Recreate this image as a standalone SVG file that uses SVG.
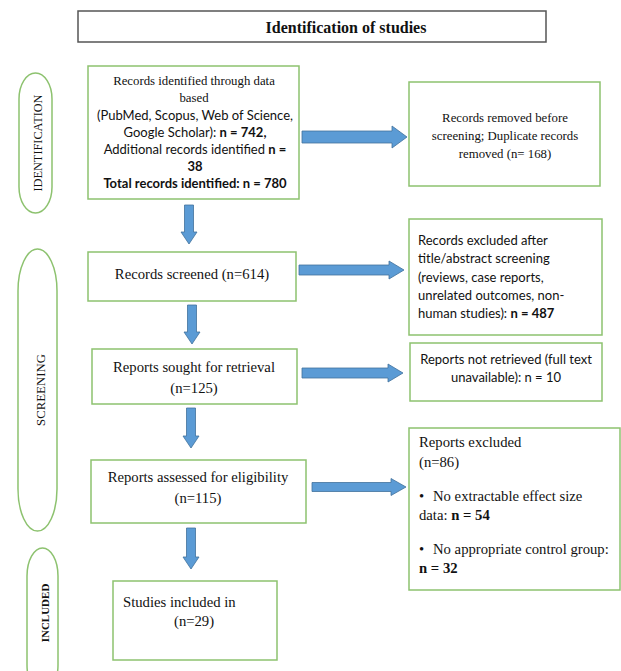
<svg xmlns="http://www.w3.org/2000/svg" width="621" height="671" viewBox="0 0 621 671">
<defs>
<style>
.bg{fill:#ffffff}
.box{fill:#ffffff;stroke:#8dc26f;stroke-width:1.5}
.pill{fill:none;stroke:#8dc26f;stroke-width:1.5}
.head{fill:#ffffff;stroke:#555555;stroke-width:1.5}
.arr{fill:#5b9bd5;stroke:#41719c;stroke-width:0.8}
.tm{font-family:"Liberation Serif","Times New Roman",serif;fill:#111111}
.sn{font-family:Lato,"Liberation Sans",sans-serif;fill:#111111}
.b{font-weight:bold}
.c{text-anchor:middle}
.s12{font-size:12.8px}
.s14{font-size:14.7px}
.l13{font-size:13px}
</style>
</defs>
<rect class="bg" x="0" y="0" width="621" height="671"/>

<g id="header">
<rect class="head" x="78" y="11" width="468" height="31"/>
<text class="tm b c" x="346" y="33" font-size="16">Identification of studies</text>
</g>

<g id="phase-identification">
<rect class="pill" x="19" y="73" width="33" height="140" rx="16.5" ry="26"/>
<text class="tm c" font-size="12.3" transform="translate(41.5,143) rotate(-90)">IDENTIFICATION</text>
</g>
<g id="phase-screening">
<rect class="pill" x="18" y="249" width="39" height="282" rx="19.5" ry="42"/>
<text class="tm c" font-size="12.8" transform="translate(44.5,390) rotate(-90)">SCREENING</text>
</g>
<g id="phase-included">
<rect class="pill" x="27" y="548" width="31" height="145" rx="15.5" ry="28"/>
<text class="tm b c" font-size="11" transform="translate(48.5,613) rotate(-90)">INCLUDED</text>
</g>

<g id="records-identified">
<rect class="box" x="88" y="66" width="211" height="133"/>
<text class="tm s12 c" x="194" y="85">Records identified through data</text>
<text class="tm s12 c" x="194" y="102">based</text>
<text class="sn l13 c" x="195" y="120">(PubMed, Scopus, Web of Science,</text>
<text class="sn l13 c" x="195" y="137">Google Scholar): <tspan class="b">n = 742,</tspan></text>
<text class="sn l13 c" x="195" y="154">Additional records identified <tspan class="b">n =</tspan></text>
<text class="sn l13 c b" x="195" y="171">38</text>
<text class="sn l13 c b" x="195" y="188">Total records identified: n = 780</text>
</g>

<g id="records-removed">
<rect class="box" x="409" y="82" width="191" height="104"/>
<text class="tm s12 c" x="505" y="122">Records removed before</text>
<text class="tm s12 c" x="505" y="140">screening; Duplicate records</text>
<text class="tm s12 c" x="505" y="158">removed (n= 168)</text>
</g>

<g id="records-screened">
<rect class="box" x="88" y="252" width="208" height="49"/>
<text class="tm s14 c" x="192" y="279">Records screened (n=614)</text>
</g>

<g id="records-excluded">
<rect class="box" x="409" y="219" width="193" height="116"/>
<text class="sn l13" x="418" y="245">Records excluded after</text>
<text class="sn l13" x="418" y="263">title/abstract screening</text>
<text class="sn l13" x="418" y="282">(reviews, case reports,</text>
<text class="sn l13" x="418" y="300">unrelated outcomes, non-</text>
<text class="sn l13" x="418" y="318">human studies): <tspan class="b">n = 487</tspan></text>
</g>

<g id="reports-sought">
<rect class="box" x="92" y="349" width="205" height="55"/>
<text class="tm s14 c" x="194" y="372">Reports sought for retrieval</text>
<text class="tm s14 c" x="194" y="393">(n=125)</text>
</g>

<g id="reports-not-retrieved">
<rect class="box" x="410" y="343" width="192" height="58"/>
<text class="sn l13 c" x="506" y="364">Reports not retrieved (full text</text>
<text class="sn l13 c" x="506" y="382">unavailable): n = 10</text>
</g>

<g id="reports-assessed">
<rect class="box" x="91" y="460" width="215" height="63"/>
<text class="tm s14 c" x="198" y="482">Reports assessed for eligibility</text>
<text class="tm s14 c" x="198" y="503">(n=115)</text>
</g>

<g id="reports-excluded">
<rect class="box" x="409" y="428" width="211" height="162"/>
<text class="tm s14" x="419" y="447">Reports excluded</text>
<text class="tm s14" x="419" y="467">(n=86)</text>
<text class="tm s14" x="419" y="501">•</text>
<text class="tm s14" x="433" y="501">No extractable effect size</text>
<text class="tm s14" x="419" y="520">data: <tspan class="b">n = 54</tspan></text>
<text class="tm s14" x="419" y="554">•</text>
<text class="tm s14" x="433" y="554">No appropriate control group:</text>
<text class="tm s14 b" x="419" y="573">n = 32</text>
</g>

<g id="studies-included">
<rect class="box" x="113" y="581" width="164" height="79"/>
<text class="tm s14" x="123" y="607">Studies included in</text>
<text class="tm s14" x="174" y="626">(n=29)</text>
</g>

<g id="connectors">
<path class="arr" d="M302,131 H392 V126 L407,137 L392,148 V143 H302 Z"/>
<path class="arr" d="M299,265 H389 V261 L404,270 L389,279 V275 H299 Z"/>
<path class="arr" d="M302,368 H388 V364 L403,373 L388,382 V378 H302 Z"/>
<path class="arr" d="M312,482.5 H391 V478.5 L406,487 L391,495.5 V491.5 H312 Z"/>
<path class="arr" d="M184.5,205 V232 H181 L189,244 L197,232 H193.5 V205 Z"/>
<path class="arr" d="M187.5,305 V332 H184 L192,344 L200,332 H196.5 V305 Z"/>
<path class="arr" d="M186.5,408 V436 H183 L191,448 L199,436 H195.5 V408 Z"/>
<path class="arr" d="M186.5,528 V557 H183 L191,569 L199,557 H195.5 V528 Z"/>
</g>
</svg>
